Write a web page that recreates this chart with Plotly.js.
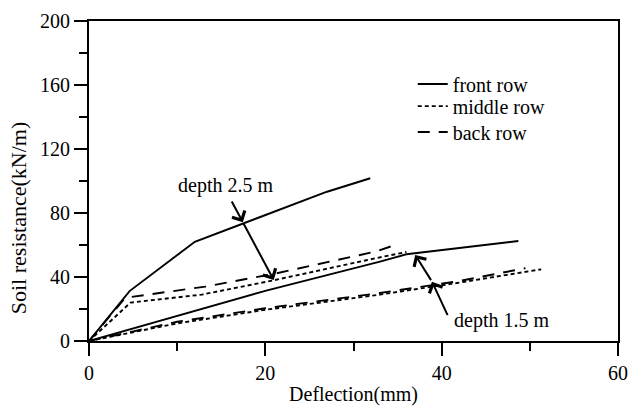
<!DOCTYPE html>
<html>
<head>
<meta charset="utf-8">
<script src="https://cdn.plot.ly/plotly-3.0.1.min.js"></script>
<style>html,body{margin:0;padding:0;background:#fff;}#chart{width:632px;height:408px;}</style>
</head>
<body>
<div id="chart"></div>
<script>
// Depth 2.5 m curves
var front25X = [0, 4.6, 12.0, 27.0, 31.9];
var front25Y = [0, 31.2, 62.0, 93.3, 101.7];
var middle25X = [0, 4.7, 12.8, 21.0, 32.3, 36.0];
var middle25Y = [0, 24.0, 29.0, 38.0, 51.5, 55.6];
var back25X = [0, 4.1, 13.2, 21.0, 32.6, 34.5];
var back25Y = [0, 27.0, 34.0, 42.0, 56.0, 59.6];
// Depth 1.5 m curves
var front15X = [0, 13.2, 20.1, 33.0, 36.0, 48.7];
var front15Y = [0, 21.0, 31.5, 49.6, 54.2, 62.5];
var middle15X = [0, 5.0, 10.0, 20.0, 33.0, 42.0, 51.3];
var middle15Y = [0, 5.5, 11.0, 19.5, 29.0, 36.5, 44.8];
var back15X = [0, 5.0, 10.0, 20.0, 33.0, 42.0, 49.5];
var back15Y = [0, 6.0, 12.0, 20.5, 30.0, 37.5, 45.5];

var seriesNames = ['front row', 'middle row', 'back row'];
var xTickVals = [0, 20, 40, 60];
var yTickVals = [0, 40, 80, 120, 160, 200];
var xTitle = 'Deflection(mm)';
var yTitle = 'Soil resistance(kN/m)';

// annotation anchor points (data coords)
var label25 = {text: 'depth 2.5 m', x: 15.5, y: 96.9};
var label15 = {text: 'depth 1.5 m', x: 46.8, y: 13.1};
var arrow25 = {tail: [16.1, 88.1], mid: [17.45, 74.2], end: [20.95, 38.1]};
var arrow15 = {tail: [40.75, 15.2], mid: [38.9, 37.1], end: [37.0, 53.75]};

var FONT = 'Liberation Serif, Times New Roman, serif';
var FS = 20;
var solid = {color: '#000', width: 1.9, dash: 'solid'};
var dotted = {color: '#000', width: 1.9, dash: '4px,3px'};
var dashed = {color: '#000', width: 1.9, dash: '12px,9px'};

var traces = [
  {x: front25X, y: front25Y, name: seriesNames[0], mode: 'lines', line: solid, legend: 'legend'},
  {x: middle25X, y: middle25Y, name: seriesNames[1], mode: 'lines', line: dotted, legend: 'legend2'},
  {x: back25X, y: back25Y, name: seriesNames[2], mode: 'lines', line: dashed, legend: 'legend3'},
  {x: front15X, y: front15Y, name: seriesNames[0], mode: 'lines', line: solid, showlegend: false},
  {x: middle15X, y: middle15Y, name: seriesNames[1], mode: 'lines', line: dotted, showlegend: false},
  {x: back15X, y: back15Y, name: seriesNames[2], mode: 'lines', line: dashed, showlegend: false}
];

function arrowAnn(head, tail) {
  return {x: head[0], y: head[1], ax: tail[0], ay: tail[1], xref: 'x', yref: 'y', axref: 'x', ayref: 'y',
    text: '', showarrow: true, arrowhead: 4, arrowsize: 1.4, arrowwidth: 2, arrowcolor: '#000', standoff: 0, startstandoff: 0};
}

var annotations = [
  {x: label25.x, y: label25.y, xref: 'x', yref: 'y', text: label25.text, showarrow: false, font: {family: FONT, size: FS, color: '#000'}},
  {x: label15.x, y: label15.y, xref: 'x', yref: 'y', text: label15.text, showarrow: false, font: {family: FONT, size: FS, color: '#000'}},
  arrowAnn(arrow25.mid, arrow25.tail),
  arrowAnn(arrow25.end, arrow25.mid),
  arrowAnn(arrow15.mid, arrow15.tail),
  arrowAnn(arrow15.end, arrow15.mid),
  {x: -0.134, y: 0.384, xref: 'paper', yref: 'paper', xanchor: 'center', yanchor: 'middle', textangle: -90,
    text: yTitle, showarrow: false, font: {family: FONT, size: 22, color: '#000'}}
];

var axisCommon = {
  showline: true, linecolor: '#000', linewidth: 2, mirror: true,
  showgrid: false, zeroline: false,
  ticks: 'outside', ticklen: 13, tickwidth: 2, tickcolor: '#000',
  tickfont: {family: FONT, size: FS, color: '#000'}
};

function legendAt(py) {
  return {x: 0.612, y: py, xanchor: 'left', yanchor: 'middle', bgcolor: 'rgba(0,0,0,0)',
    borderwidth: 0, font: {family: FONT, size: FS, color: '#000'}, itemwidth: 30};
}

var layout = {
  width: 632, height: 408,
  margin: {l: 89, r: 14, t: 21, b: 67},
  paper_bgcolor: '#fff', plot_bgcolor: '#fff',
  font: {family: FONT, size: FS, color: '#000'},
  xaxis: Object.assign({}, axisCommon, {
    range: [0, 60], tickvals: xTickVals, ticktext: xTickVals.map(String),
    minor: {dtick: 10, tick0: 0, ticks: 'outside', ticklen: 8, tickwidth: 2, tickcolor: '#000'},
    title: {text: xTitle, font: {family: FONT, size: FS, color: '#000'}, standoff: 4}
  }),
  yaxis: Object.assign({}, axisCommon, {
    range: [0, 200], tickvals: yTickVals, ticktext: yTickVals.map(String),
    minor: {dtick: 20, tick0: 0, ticks: 'outside', ticklen: 8, tickwidth: 2, tickcolor: '#000'}
  }),
  legend: legendAt(0.803),
  legend2: legendAt(0.734),
  legend3: legendAt(0.653),
  showlegend: true,
  annotations: annotations
};

Plotly.newPlot('chart', traces, layout, {staticPlot: true, displayModeBar: false});
</script>
</body>
</html>
